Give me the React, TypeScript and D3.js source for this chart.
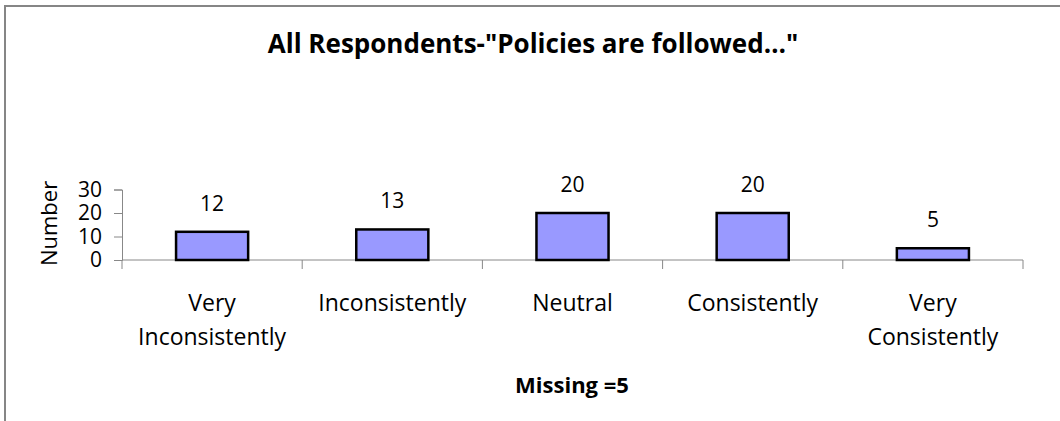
import React, { useRef, useEffect } from "react";
import * as d3 from "d3";

// chart data
const categories = [
  "Very Inconsistently",
  "Inconsistently",
  "Neutral",
  "Consistently",
  "Very Consistently",
];
const categoryLines = [
  ["Very", "Inconsistently"],
  ["Inconsistently"],
  ["Neutral"],
  ["Consistently"],
  ["Very", "Consistently"],
];
const counts = [12, 13, 20, 20, 5];
const yTicks = [0, 10, 20, 30];

const title = 'All Respondents-"Policies are followed\u2026"';
const xTitle = "Missing =5";
const yTitle = "Number";

const FONT = "'Open Sans', 'Noto Sans', sans-serif";

const App: React.FC = () => {
  const chartRef = useRef<SVGSVGElement | null>(null);

  useEffect(() => {
    document.body.style.margin = "0";
    if (!chartRef.current) return;

    const width = 1060;
    const height = 421;
    const svg = d3.select(chartRef.current);
    svg.selectAll("*").remove();
    svg.attr("width", width).attr("height", height).style("display", "block");

    // plot area
    const left = 122;
    const right = 1023;
    const bottom = 260;
    const top = 189.5;

    // outer frame (only top and left edge are visible)
    svg
      .append("path")
      .attr("d", `M5,${height} L5,6 L${width},6`)
      .attr("fill", "none")
      .attr("stroke", "#868686")
      .attr("stroke-width", 2);

    const x = d3
      .scaleBand()
      .domain(categories)
      .range([left, right])
      .paddingInner(0.6)
      .paddingOuter(0.3);

    const y = d3.scaleLinear().domain([0, 30]).range([bottom, top]);

    // title
    svg
      .append("text")
      .attr("x", 533)
      .attr("y", 53)
      .attr("text-anchor", "middle")
      .style("font-family", FONT)
      .style("font-weight", "bold")
      .style("font-size", "26px")
      .text(title);

    // y axis
    const yAxis = svg
      .append("g")
      .attr("transform", `translate(${left},0)`)
      .call(d3.axisLeft(y).tickValues(yTicks).tickSize(8).tickPadding(12));
    yAxis.select(".domain").attr("stroke", "#888");
    yAxis.selectAll(".tick line").attr("stroke", "#888");
    yAxis
      .selectAll(".tick text")
      .style("font-family", FONT)
      .style("font-size", "21px")
      .attr("fill", "#000");

    // x axis line with category separator ticks
    const step = x.step();
    const boundaries = d3.range(categories.length + 1).map((i) => left + i * step);
    svg
      .append("line")
      .attr("x1", left)
      .attr("x2", right)
      .attr("y1", bottom)
      .attr("y2", bottom)
      .attr("stroke", "#888");
    svg
      .append("g")
      .selectAll("line")
      .data(boundaries)
      .join("line")
      .attr("x1", (d) => d)
      .attr("x2", (d) => d)
      .attr("y1", bottom)
      .attr("y2", bottom + 9)
      .attr("stroke", "#888");

    // bars
    svg
      .append("g")
      .selectAll("rect")
      .data(counts)
      .join("rect")
      .attr("x", (d, i) => x(categories[i])!)
      .attr("y", (d) => y(d))
      .attr("width", x.bandwidth())
      .attr("height", (d) => y(0) - y(d))
      .attr("fill", "#9999ff")
      .attr("stroke", "#000")
      .attr("stroke-width", 2.5);

    // value labels
    svg
      .append("g")
      .selectAll("text")
      .data(counts)
      .join("text")
      .attr("x", (d, i) => x(categories[i])! + x.bandwidth() / 2)
      .attr("y", (d) => y(d) - 21)
      .attr("text-anchor", "middle")
      .style("font-family", FONT)
      .style("font-size", "21px")
      .text((d) => d);

    // category labels
    const catG = svg
      .append("g")
      .selectAll("text")
      .data(categoryLines)
      .join("text")
      .attr("text-anchor", "middle")
      .style("font-family", FONT)
      .style("font-size", "23px");
    catG
      .selectAll("tspan")
      .data((d, i) => d.map((line) => ({ line, i })))
      .join("tspan")
      .attr("x", (d) => x(categories[d.i])! + x.bandwidth() / 2)
      .attr("y", (d, j) => 311 + j * 34)
      .text((d) => d.line);

    // axis titles
    svg
      .append("text")
      .attr("x", 572)
      .attr("y", 393)
      .attr("text-anchor", "middle")
      .style("font-family", FONT)
      .style("font-weight", "bold")
      .style("font-size", "22px")
      .text(xTitle);

    svg
      .append("text")
      .attr("transform", `translate(57,223.5) rotate(-90)`)
      .attr("text-anchor", "middle")
      .style("font-family", FONT)
      .style("font-size", "22px")
      .text(yTitle);
  }, []);

  return <svg ref={chartRef}></svg>;
};

export default App;
